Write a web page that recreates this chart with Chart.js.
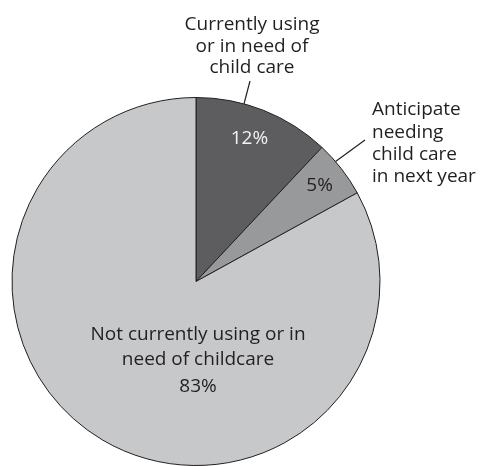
<!DOCTYPE html>
<html>
<head>
<meta charset="utf-8">
<script src="https://cdn.jsdelivr.net/npm/chart.js@4/dist/chart.umd.min.js"></script>
<style>
html,body{margin:0;padding:0;background:#fff;}
#wrap{width:480px;height:466px;position:relative;}
</style>
</head>
<body>
<div id="wrap"><canvas id="c" width="480" height="466"></canvas></div>
<script>
const categories = [
  "Currently using or in need of child care",
  "Anticipate needing child care in next year",
  "Not currently using or in need of childcare"
];
const values = [12, 5, 83];
const valueLabels = ["12%", "5%", "83%"];
const labelLines = [
  ["Currently using", "or in need of", "child care"],
  ["Anticipate", "needing", "child care", "in next year"],
  ["Not currently using or in", "need of childcare"]
];
const colors = ["#5d5d5f", "#98999b", "#c7c8ca"];

const FONT = "19px 'Open Sans', sans-serif";
const TEXT = "#231f20";

const labelPlugin = {
  id: 'labels',
  afterDraw(chart) {
    const ctx = chart.ctx;
    const arcs = chart.getDatasetMeta(0).data;
    const a0 = arcs[0], a1 = arcs[1];
    const cx = a0.x, cy = a0.y, R = a0.outerRadius;
    const pt = (ang, r) => [cx + Math.cos(ang) * r, cy + Math.sin(ang) * r];
    ctx.save();
    ctx.font = FONT;
    ctx.textBaseline = 'middle';
    ctx.lineWidth = 1.2;
    ctx.strokeStyle = TEXT;

    // Slice 0: external label above
    ctx.fillStyle = TEXT;
    ctx.textAlign = 'center';
    const t0x = cx + 56, t0y = 25;
    labelLines[0].forEach((l, i) => ctx.fillText(l, t0x, t0y + i * 21.5));
    const m0 = a0.startAngle + (a0.endAngle - a0.startAngle) * 0.35;
    let p = pt(m0, R);
    ctx.beginPath();
    ctx.moveTo(p[0], p[1]);
    ctx.lineTo(p[0] + 6, t0y + 2 * 21.5 + 13);
    ctx.stroke();

    // Slice 0 value label inside
    let q = pt((a0.startAngle + a0.endAngle) / 2 - 0.02, R * 0.83);
    ctx.fillStyle = '#f2f2f2';
    ctx.fillText(valueLabels[0], q[0], q[1]);

    // Slice 1 external label to right
    ctx.fillStyle = TEXT;
    ctx.textAlign = 'left';
    const t1x = cx + 176, t1y = 110;
    labelLines[1].forEach((l, i) => ctx.fillText(l, t1x, t1y + i * 22.3));
    const m1 = (a1.startAngle + a1.endAngle) / 2 - 0.05;
    p = pt(m1, R);
    ctx.beginPath();
    ctx.moveTo(p[0], p[1]);
    ctx.lineTo(t1x - 7, t1y + 30);
    ctx.stroke();

    // Slice 1 value inside
    q = pt((a1.startAngle + a1.endAngle) / 2, R * 0.85);
    ctx.textAlign = 'center';
    ctx.fillText(valueLabels[1], q[0], q[1]);

    // Slice 2 label inside
    const t2y = cy + 53;
    labelLines[2].forEach((l, i) => ctx.fillText(l, cx + 2, t2y + i * 25.5));
    ctx.fillText(valueLabels[2], cx + 2, t2y + 2 * 25.5 + 1);
    ctx.restore();
  }
};

new Chart(document.getElementById('c'), {
  type: 'pie',
  data: {
    labels: categories,
    datasets: [{
      data: values,
      backgroundColor: colors,
      borderColor: '#231f20',
      borderWidth: 1
    }]
  },
  options: {
    responsive: false,
    animation: false,
    layout: { padding: { left: 11, right: 99, top: 97, bottom: 0 } },
    plugins: { legend: { display: false }, tooltip: { enabled: false } }
  },
  plugins: [labelPlugin]
});
</script>
</body>
</html>
